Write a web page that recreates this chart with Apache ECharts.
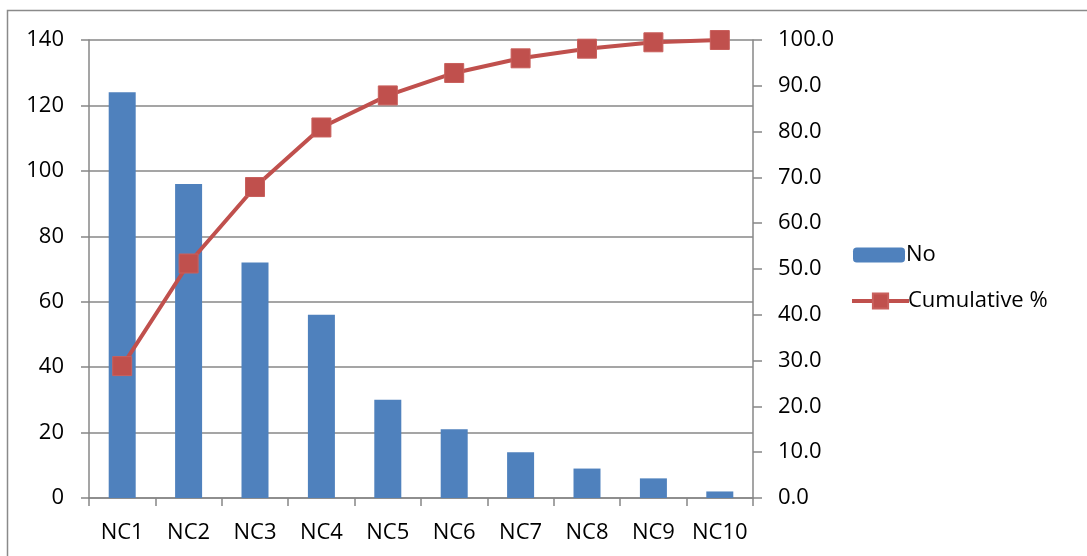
<!DOCTYPE html>
<html>
<head>
<meta charset="utf-8">
<script src="https://cdn.jsdelivr.net/npm/echarts@6/dist/echarts.min.js"></script>
<style>
  html, body { margin: 0; padding: 0; background: #fff; }
  #chart { width: 1087px; height: 556px; }
</style>
</head>
<body>
<div id="chart"></div>
<script>
// Pareto chart: non-conformity counts with cumulative percentage
const categories = ['NC1', 'NC2', 'NC3', 'NC4', 'NC5', 'NC6', 'NC7', 'NC8', 'NC9', 'NC10'];
const counts = [124, 96, 72, 56, 30, 21, 14, 9, 6, 2];
const cumulativePct = [28.8, 51.2, 67.9, 80.9, 87.9, 92.8, 96.0, 98.1, 99.5, 100.0];

const FONT = '"Open Sans", "Liberation Sans", sans-serif';
const FONT_SIZE = 22;
const AXIS_GREY = '#878787';
const BAR_BLUE = '#4F81BD';
const LINE_RED = '#C0504D';

const chart = echarts.init(document.getElementById('chart'));

chart.setOption({
  animation: false,
  textStyle: { fontFamily: FONT },
  grid: { left: 89, right: 334, top: 40, bottom: 58, containLabel: false },
  graphic: [{
    type: 'rect',
    shape: { x: 7.5, y: 10.5, width: 1200, height: 700 },
    style: { fill: 'none', stroke: '#8a8a8a', lineWidth: 1.5 },
    silent: true,
    z: -1
  }],
  legend: [{
    data: ['No'],
    orient: 'vertical',
    left: 848,
    top: 239,
    itemWidth: 52,
    itemHeight: 15,
    textStyle: { fontFamily: FONT, fontSize: FONT_SIZE, color: '#000', padding: [0, 0, 0, -4] },
    selectedMode: false
  }, {
    data: ['Cumulative %'],
    orient: 'vertical',
    left: 845,
    top: 285,
    itemWidth: 57,
    itemHeight: 19,
    lineStyle: { width: 4 },
    textStyle: { fontFamily: FONT, fontSize: FONT_SIZE, color: '#000', padding: [0, 0, 0, -6] },
    selectedMode: false
  }],
  xAxis: {
    type: 'category',
    data: categories,
    boundaryGap: true,
    axisLine: { lineStyle: { color: AXIS_GREY, width: 1.5 } },
    axisTick: { show: true, length: 8, alignWithLabel: false, lineStyle: { color: AXIS_GREY, width: 1.5 } },
    axisLabel: { color: '#000', fontFamily: FONT, fontSize: FONT_SIZE, margin: 24, interval: 0 }
  },
  yAxis: [{
    type: 'value',
    min: 0,
    max: 140,
    interval: 20,
    axisLine: { show: true, lineStyle: { color: AXIS_GREY, width: 1.5 } },
    axisTick: { show: true, length: 8, lineStyle: { color: AXIS_GREY, width: 1.5 } },
    axisLabel: { color: '#000', fontFamily: FONT, fontSize: FONT_SIZE, margin: 25 },
    splitLine: { show: true, lineStyle: { color: AXIS_GREY, width: 1.5 } }
  }, {
    type: 'value',
    min: 0,
    max: 100,
    interval: 10,
    position: 'right',
    axisLine: { show: true, lineStyle: { color: AXIS_GREY, width: 1.5 } },
    axisTick: { show: true, length: 9, lineStyle: { color: AXIS_GREY, width: 1.5 } },
    axisLabel: {
      color: '#000', fontFamily: FONT, fontSize: FONT_SIZE, margin: 25,
      formatter: v => v.toFixed(1)
    },
    splitLine: { show: false }
  }],
  series: [{
    name: 'No',
    type: 'bar',
    yAxisIndex: 0,
    data: counts,
    barWidth: 27,
    itemStyle: { color: BAR_BLUE },
    z: 2
  }, {
    name: 'Cumulative %',
    type: 'line',
    yAxisIndex: 1,
    data: cumulativePct,
    symbol: 'rect',
    symbolSize: 19,
    lineStyle: { color: LINE_RED, width: 4 },
    itemStyle: { color: LINE_RED, borderColor: '#c9605d', borderWidth: 1 },
    z: 3
  }]
});
</script>
</body>
</html>
